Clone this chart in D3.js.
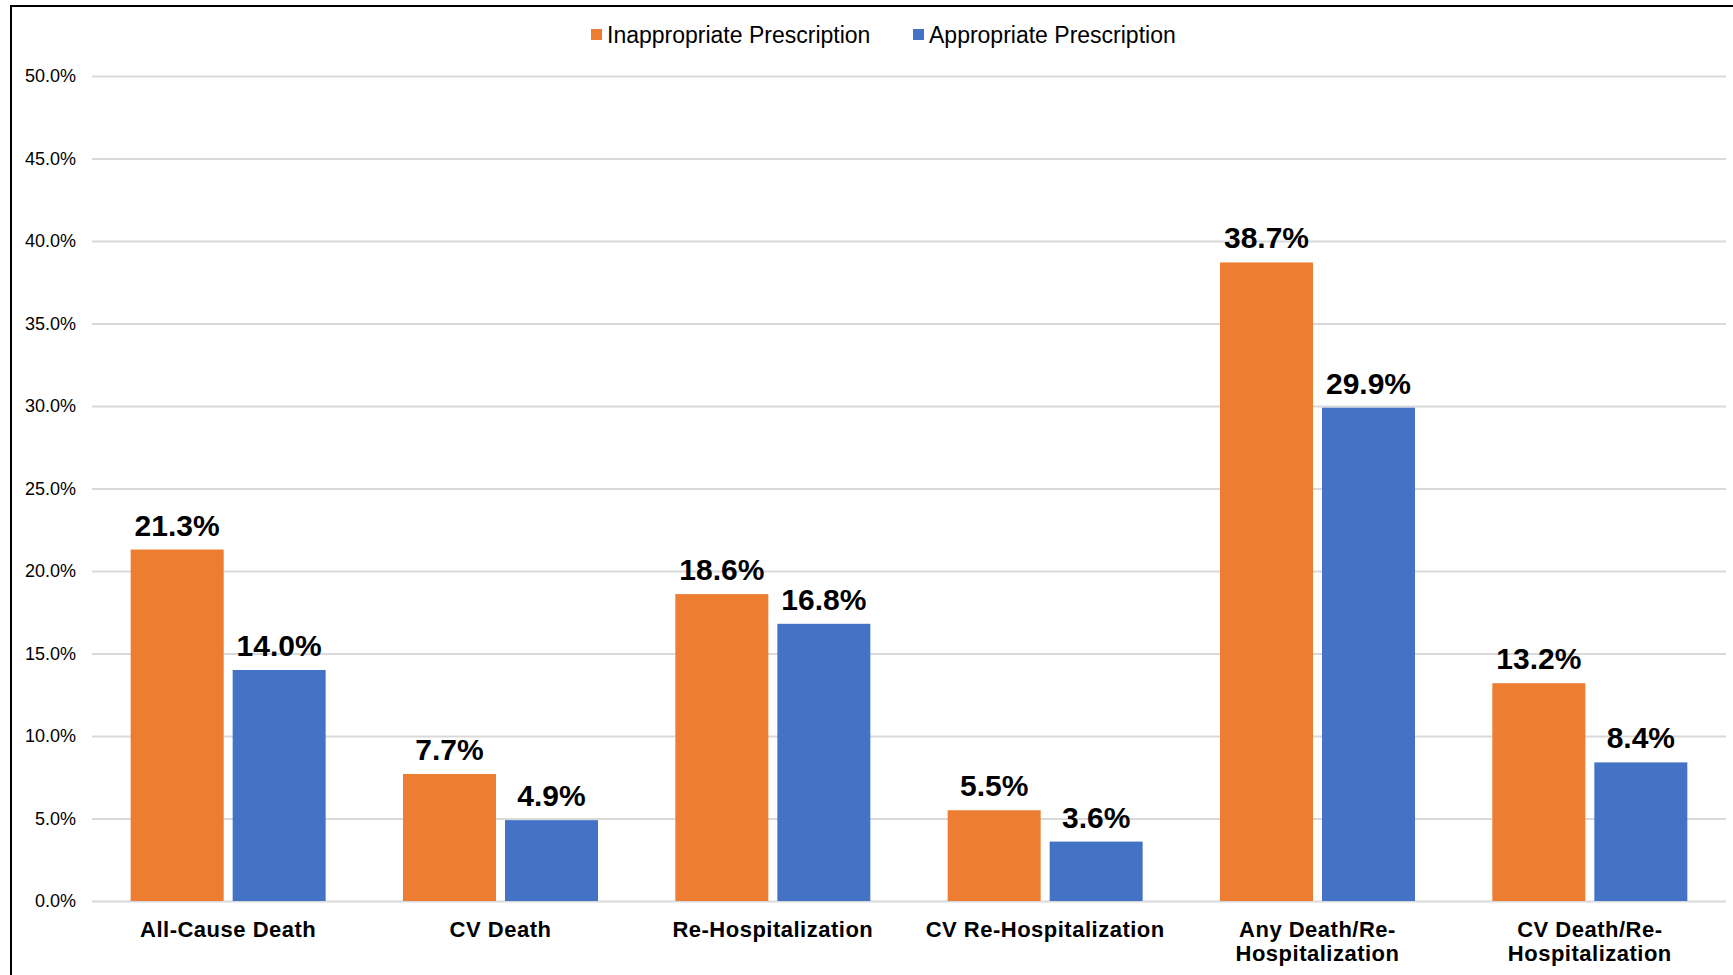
<!DOCTYPE html>
<html><head><meta charset="utf-8">
<script src="https://cdn.jsdelivr.net/npm/d3@7"></script>
<style>
html,body{margin:0;padding:0;background:#fff;}
svg{display:block;font-family:"Liberation Sans",Arial,sans-serif;}
</style></head>
<body>
<svg id="chart" width="1733" height="975"></svg>
<script>
const categories = [["All-Cause Death"], ["CV Death"], ["Re-Hospitalization"], ["CV Re-Hospitalization"], ["Any Death/Re-", "Hospitalization"], ["CV Death/Re-", "Hospitalization"]];
const seriesNames = ["Inappropriate Prescription", "Appropriate Prescription"];
const inappropriate = [21.3, 7.7, 18.6, 5.5, 38.7, 13.2];
const appropriate = [14.0, 4.9, 16.8, 3.6, 29.9, 8.4];
const yTicks = [0, 5, 10, 15, 20, 25, 30, 35, 40, 45, 50];
const colors = ["#ED7D31", "#4472C4"];

const svg = d3.select("#chart");
const W = 1733, H = 975;
const plotL = 92, plotR = 1726, plotT = 76, plotB = 901;

// frame
svg.append("path").attr("d", `M11,${H+5} L11,6 L${W+5},6`).attr("fill","none").attr("stroke","#000").attr("stroke-width",2);

const x0 = d3.scaleBand().domain(d3.range(categories.length)).range([plotL, plotR]).paddingInner(0).paddingOuter(0);
const y = d3.scaleLinear().domain([0, 50]).range([plotB, plotT]);

// gridlines
const yAxis = d3.axisLeft(y).tickValues(yTicks).tickSize(-(plotR-plotL)).tickFormat(d => d.toFixed(1) + "%").tickPadding(16);
const gy = svg.append("g").attr("transform", `translate(${plotL},0)`).call(yAxis);
gy.select(".domain").remove();
gy.selectAll(".tick line").attr("stroke", "#d9d9d9").attr("stroke-width", 2);
gy.selectAll(".tick text").attr("font-size", 18).attr("fill", "#000").attr("font-family", '"Liberation Sans", Arial, sans-serif');

const step = x0.bandwidth();
const barW = 93, gap = 9;
const groupW = barW*2 + gap;
const x1 = d3.scaleOrdinal().domain([0,1]).range([0, barW + gap]);

const data = categories.map((c, i) => ({i, vals: [inappropriate[i], appropriate[i]]}));
const g = svg.append("g");
const groups = g.selectAll("g.grp").data(data).join("g")
  .attr("transform", d => `translate(${x0(d.i) + (step - groupW)/2},0)`);

groups.selectAll("rect").data(d => d.vals.map((v, s) => ({v, s}))).join("rect")
  .attr("x", d => x1(d.s)).attr("width", barW)
  .attr("y", d => y(d.v)).attr("height", d => y(0) - y(d.v))
  .attr("fill", d => colors[d.s]);

groups.selectAll("text.lbl").data(d => d.vals.map((v, s) => ({v, s}))).join("text")
  .attr("class","lbl")
  .attr("x", d => x1(d.s) + barW/2).attr("y", d => y(d.v) - 14)
  .attr("text-anchor","middle").attr("font-size", 30).attr("font-weight","bold").attr("fill","#000")
  .text(d => d.v.toFixed(1) + "%");

// category labels
const cat = svg.append("g").selectAll("text").data(categories).join("text")
  .attr("x", (d, i) => x0(i) + step/2).attr("y", 937)
  .attr("text-anchor","middle").attr("font-size", 22).attr("letter-spacing", 0.5).attr("font-weight","bold").attr("fill","#000");
cat.selectAll("tspan").data(d => d).join("tspan")
  .attr("x", function(){ return this.parentNode.getAttribute("x"); })
  .attr("dy", (d, j) => j === 0 ? 0 : 24)
  .text(d => d);

// legend
const legendX = [591, 913];
const lg = svg.append("g").selectAll("g").data(seriesNames).join("g")
  .attr("transform", (d, i) => `translate(${legendX[i]},35)`);
lg.append("rect").attr("x",0).attr("y",-6).attr("width",11).attr("height",11).attr("fill",(d,i)=>colors[i]);
lg.append("text").attr("x",16).attr("y",8).attr("font-size",23).attr("fill","#000").text(d => d);
</script>
</body></html>
